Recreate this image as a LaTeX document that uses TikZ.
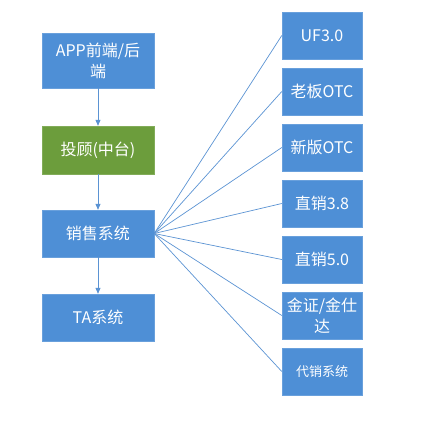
\documentclass[tikz,border=0pt]{standalone}
\usepackage{fontspec}
\newfontfamily\cjk{Noto Sans CJK SC}
\usetikzlibrary{positioning}
\usetikzlibrary{arrows.meta}
\definecolor{boxblue}{HTML}{4E8FD6}
\definecolor{boxgreen}{HTML}{6C9D3C}
\definecolor{lineblue}{HTML}{5B93D3}
\tikzset{
    boxb/.style = {rectangle, draw=boxblue!85!white, fill=boxblue, align=center, font=\cjk\fontsize{16}{21}\selectfont, text=white, inner sep=0pt},
    boxg/.style = {rectangle, draw=boxgreen!85!white, fill=boxgreen, align=center, font=\cjk\fontsize{16}{21}\selectfont, text=white, inner sep=0pt},
    boxl/.style = {boxb, minimum width=112pt, minimum height=47pt},
    boxr/.style = {boxb, minimum width=80pt, minimum height=47pt},
    edgea/.style = {-{Triangle[length=6pt,width=5pt]}, line width=0.8pt, lineblue},
    edgeb/.style = {-, line width=0.7pt, lineblue}
}
\begin{document}
\begin{tikzpicture}[x=1pt,y=-1pt]
  \useasboundingbox (0,0) rectangle (432,426);
  % left column
  \node[boxl, minimum height=55pt] (app) at (98,60.5) {APP前端/后\\端};
  \node[boxg, minimum width=112pt, minimum height=48pt] (tg) at (98,150) {投顾(中台)};
  \node[boxl] (xs) at (98,233.5) {销售系统};
  \node[boxl] (ta) at (98,317.5) {TA系统};
  \draw[edgea] (app) -- (tg);
  \draw[edgea] (tg) -- (xs);
  \draw[edgea] (xs) -- (ta);
  % right column
  \node[boxr] (uf) at (322,35.5) {UF3.0};
  \node[boxr] (lb) at (322,91.5) {老板OTC};
  \node[boxr] (xb) at (322,147.5) {新版OTC};
  \node[boxr] (zx3) at (322,203.5) {直销3.8};
  \node[boxr] (zx5) at (322,259.5) {直销5.0};
  \node[boxr] (jz) at (322,315.5) {金证/金仕\\达};
  \node[boxr, font=\cjk\fontsize{13}{16}\selectfont] (dx) at (322,371.5) {代销系统};
  \foreach \t in {uf,lb,xb,zx3,zx5,jz,dx}
    \draw[edgeb] (xs.east) -- (\t.west);
\end{tikzpicture}
\end{document}
